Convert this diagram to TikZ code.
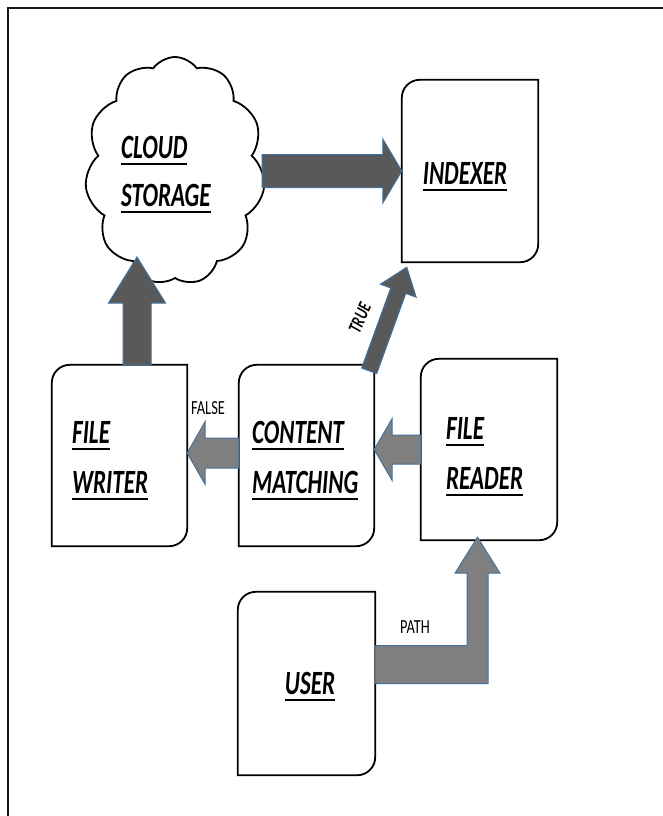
\documentclass[tikz,border=0pt]{standalone}
\usepackage{fontspec}
\usepackage{graphicx}
\setmainfont{Carlito}
\usetikzlibrary{calc,shapes.symbols}
\definecolor{darkfill}{HTML}{595959}
\definecolor{lightfill}{HTML}{7F7F7F}
\definecolor{arrline}{HTML}{41719C}
\newcommand\bigfont{\fontsize{34}{40}\selectfont\bfseries\itshape}
\newcommand\smallfont{\fontsize{20}{24}\selectfont}
\newcommand\ulw[1]{\scalebox{0.68}[1]{\sbox0{#1}\rlap{\rule[-7pt]{\wd0}{2.2pt}}\usebox0}}
\newcommand\sqz[1]{\scalebox{0.72}[1]{#1}}
\newcommand\blockarrow[6]{%
  \coordinate (bh) at ($(#3)!#6!(#2)$);
  \draw[#1] ($(#2)!#4!90:(#3)$) -- ($(bh)!#4!90:(#3)$) -- ($(bh)!#5!90:(#3)$) -- (#3)
    -- ($(bh)!#5!-90:(#3)$) -- ($(bh)!#4!-90:(#3)$) -- ($(#2)!#4!-90:(#3)$) -- cycle;
}
\tikzset{
  boxnode/.style={rectangle, inner sep=0pt},
  boxline/.style={line width=1.8pt, black},
  darkarrow/.style={fill=darkfill, draw=arrline, line width=1pt},
  lightarrow/.style={fill=lightfill, draw=arrline, line width=1pt},
  lab/.style={font=\bigfont, anchor=base west, inner sep=0pt},
  labc/.style={font=\bigfont, anchor=base, inner sep=0pt},
  small/.style={font=\smallfont, inner sep=0pt},
}
\begin{document}
\begin{tikzpicture}[x=1pt,y=1pt]
\useasboundingbox (0,0) rectangle (663,-816);
\fill[white] (0,0) rectangle (663,-816);
\draw[line width=2.4pt, black!90] (8,-8) rectangle (690,-840);

% cloud
\node[cloud, draw, line width=1.8pt, cloud puffs=11, cloud puff arc=110,
      cloud ignores aspect, minimum width=180pt, minimum height=228pt,
      inner sep=0pt] (cl) at (175,-171) {};

% boxes
\node[boxnode, minimum width=136pt, minimum height=182pt] (ix) at (470,-171) {};
\node[boxnode, minimum width=135pt, minimum height=181pt] (fw) at (119.5,-455.5) {};
\node[boxnode, minimum width=135pt, minimum height=181pt] (cm) at (306.5,-455.5) {};
\node[boxnode, minimum width=136pt, minimum height=181pt] (fr) at (489,-449.5) {};
\node[boxnode, minimum width=137pt, minimum height=183pt] (us) at (306.5,-683.5) {};
\foreach \n in {ix,fw,cm,fr,us}{
  \draw[boxline] (\n.south west) -- ([yshift=-18pt]\n.north west)
    arc[start angle=180,end angle=90,radius=18pt] -- (\n.north east)
    -- ([yshift=18pt]\n.south east) arc[start angle=0,end angle=-90,radius=18pt] -- cycle;
}

% arrows
\coordinate (a1) at ([xshift=87pt]cl.center);
\coordinate (b1) at (ix.west);
\blockarrow{darkarrow}{a1}{b1}{16.5pt}{32pt}{19pt}

\coordinate (a2) at ([xshift=17.5pt]fw.north);
\coordinate (b2) at ($(a2 |- cl.south)+(0,22)$);
\blockarrow{darkarrow}{a2}{b2}{14pt}{28.5pt}{46pt}

\coordinate (a3) at ([yshift=2.5pt]cm.west);
\coordinate (b3) at (fw.east |- a3);
\blockarrow{lightarrow}{a3}{b3}{15pt}{31.5pt}{18pt}

\coordinate (a4) at (fr.west);
\coordinate (b4) at (cm.east |- a4);
\blockarrow{lightarrow}{a4}{b4}{14.5pt}{31pt}{18pt}

\coordinate (a5) at ([shift={(-5,-6)}]cm.north east);
\coordinate (b5) at ([shift={(5,-5)}]ix.south west);
\blockarrow{darkarrow}{a5}{b5}{8pt}{19pt}{25pt}

\coordinate (ua) at ([yshift=19pt]us.east);
\coordinate (ub) at ([shift={(-11.5,3)}]fr.south);
\draw[lightarrow] let \p1=(ua), \p2=(ub) in
  (\x1,\y1+19pt) -- (\x2-10.5pt,\y1+19pt) -- (\x2-10.5pt,\y2-36pt) -- (\x2-22.5pt,\y2-36pt)
  -- (\p2) -- (\x2+22.5pt,\y2-36pt) -- (\x2+10.5pt,\y2-36pt) -- (\x2+10.5pt,\y1-19pt)
  -- (\x1,\y1-19pt) -- cycle;

% texts
\node[lab] (clt1) at (121,-158) {\ulw{CLOUD}};
\node[lab] (clt2) at (121,-206) {\ulw{STORAGE}};
\node[labc] (ixt) at (465,-184) {\ulw{INDEXER}};
\node[lab] (fwt1) at (72,-443) {\ulw{FILE}};
\node[lab] (fwt2) at (72,-493) {\ulw{WRITER}};
\node[lab] (cmt1) at (252,-443) {\ulw{CONTENT}};
\node[lab] (cmt2) at (252,-493) {\ulw{MATCHING}};
\node[lab] (frt1) at (446,-439) {\ulw{FILE}};
\node[lab] (frt2) at (446,-489) {\ulw{READER}};
\node[labc] (ust) at (310,-694) {\ulw{USER}};
\node[small] (fal) at (208,-408) {\sqz{FALSE}};
\node[small] (pth) at (415,-627) {\sqz{PATH}};
\node[font=\fontsize{19}{22}\selectfont\bfseries\itshape, inner sep=0pt, rotate=66] (tru) at (360,-318) {\sqz{TRUE}};
\end{tikzpicture}
\end{document}
